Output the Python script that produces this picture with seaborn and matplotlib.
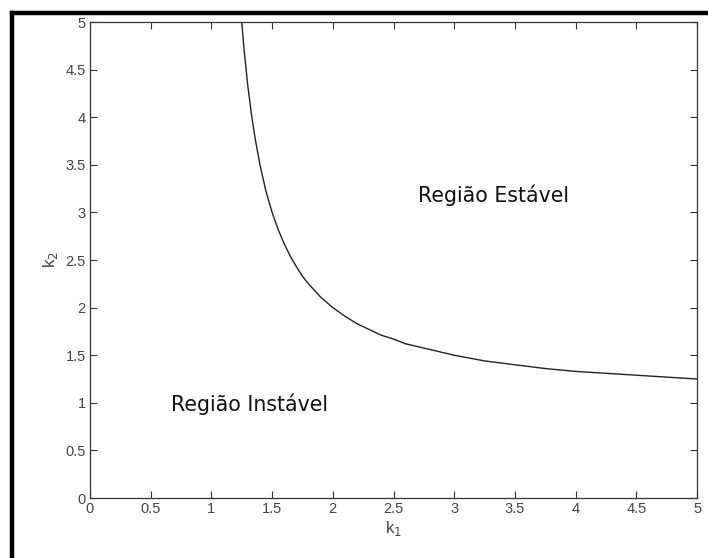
import pandas as pd
import matplotlib.pyplot as plt
import seaborn as sns
from matplotlib.lines import Line2D

# stability boundary
k1_vals = [1.25, 1.27, 1.3, 1.33, 1.36, 1.4, 1.45, 1.5, 1.55, 1.6, 1.65, 1.7, 1.75,
           1.8, 1.85, 1.9, 2.0, 2.1, 2.2, 2.3, 2.4, 2.5, 2.6, 2.8, 3.0, 3.25, 3.5,
           3.75, 4.0, 4.25, 4.5, 4.75, 5.0]
k2_vals = [5.0, 4.7, 4.33, 4.03, 3.78, 3.5, 3.22, 3.0, 2.82, 2.67, 2.54, 2.43, 2.33,
           2.25, 2.18, 2.11, 2.0, 1.91, 1.83, 1.77, 1.71, 1.67, 1.62, 1.56, 1.5, 1.44, 1.4,
           1.36, 1.33, 1.31, 1.29, 1.27, 1.25]
tick_vals = [0, 0.5, 1, 1.5, 2, 2.5, 3, 3.5, 4, 4.5, 5]
tick_labels = ['0', '0.5', '1', '1.5', '2', '2.5', '3', '3.5', '4', '4.5', '5']

df = pd.DataFrame({'k1': k1_vals, 'k2': k2_vals})

sns.set_style('ticks')
plt.rcParams['font.family'] = ['Liberation Sans', 'DejaVu Sans']

fig = plt.figure(figsize=(7.08, 5.58), dpi=100)
ax = fig.add_axes([0.1271, 0.1075, 0.8574, 0.853])

sns.lineplot(data=df, x='k1', y='k2', ax=ax, color='#222222', linewidth=1.0, sort=False)

ax.set_xlim(0, 5)
ax.set_ylim(0, 5)
ax.set_xticks(tick_vals)
ax.set_xticklabels(tick_labels)
ax.set_yticks(tick_vals)
ax.set_yticklabels(tick_labels)
ax.tick_params(direction='in', length=5, width=0.8, top=True, right=True,
               labelsize=10.5, labelcolor='#444444', color='#333333', pad=3)
for s in ax.spines.values():
    s.set_linewidth(0.9)
    s.set_color('#333333')

ax.set_xlabel(r'k$_1$', fontsize=12, color='#444444', labelpad=2)
ax.set_ylabel(r'k$_2$', fontsize=12, color='#444444', labelpad=4)

ax.text(3.32, 3.18, 'Região Estável', family='DejaVu Sans', fontsize=14.8,
        ha='center', va='center', color='#111111')
ax.text(1.31, 0.98, 'Região Instável', family='DejaVu Sans', fontsize=14.8,
        ha='center', va='center', color='#111111')

# thick page border at left and top
fig.add_artist(Line2D([12 / 708, 12 / 708], [0, 1 - 13 / 558], transform=fig.transFigure,
                      color='black', linewidth=3.2, solid_capstyle='projecting'))
fig.add_artist(Line2D([12 / 708, 1], [1 - 13 / 558, 1 - 13 / 558], transform=fig.transFigure,
                      color='black', linewidth=3.2, solid_capstyle='projecting'))

fig.savefig('out.png', dpi=100)
